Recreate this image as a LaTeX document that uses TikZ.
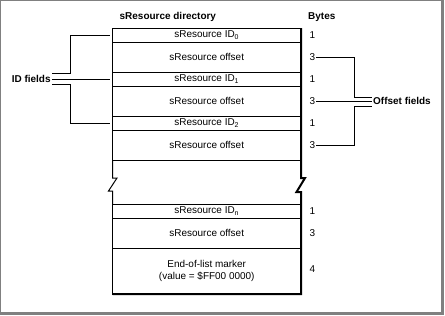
\documentclass[tikz,border=0pt]{standalone}
\usepackage{fontspec}
\setmainfont{Liberation Sans}
\usepackage{tikz}
\usetikzlibrary{positioning}

\begin{document}
\begin{tikzpicture}[
            x=1bp, y=-1bp,
            font=\fontsize{10}{11.5}\selectfont,
            tblrow/.style={draw, line width=1bp, minimum width=188.5bp, inner sep=0pt, outer sep=0pt},
            idrow/.style={tblrow, minimum height=14bp},
            offrow/.style={tblrow, minimum height=30bp},
            endrow/.style={tblrow, minimum height=46bp, align=center},
            bytes/.style={anchor=west, inner sep=1bp},
            head/.style={font=\fontsize{10}{11.5}\selectfont\bfseries, anchor=west, inner sep=0pt},
            field/.style={font=\fontsize{10}{11.5}\selectfont\bfseries, inner sep=1.5bp},
            link/.style={line width=1bp},
            rim/.style={line width=2bp},
            frame/.style={draw=black!50}
        ]
            \useasboundingbox (0,0) rectangle (445,315);
            \draw[frame, line width=1bp] (0.5,313) -- (0.5,0.5) -- (442,0.5);
            \draw[frame, line width=2.5bp] (442.5,0) -- (442.5,313.5) -- (0,313.5);

            \node[head] (title) at (119.5,17) {sResource directory};
            \node[head] (bytehead) at (308,17) {Bytes};

            \node[idrow] (id0) at (206.75,35) {sResource ID\textsubscript{0}};
            \node[offrow] (off0) at (206.75,57) {sResource offset};
            \node[idrow] (id1) at (206.75,79) {sResource ID\textsubscript{1}};
            \node[offrow] (off1) at (206.75,101) {sResource offset};
            \node[idrow] (id2) at (206.75,123) {sResource ID\textsubscript{2}};
            \node[offrow] (off2) at (206.75,145) {sResource offset};

            \node[idrow] (idn) at (206.75,211) {sResource ID\textsubscript{n}};
            \node[offrow] (offn) at (206.75,233) {sResource offset};
            \node[endrow] (endmark) at (206.75,271) {End-of-list marker\\(value = \$FF00 0000)};

            \draw[link] (off2.south west) -- (112.5,178) -- (117,178) -- (108.5,191) -- (112.5,191) -- (idn.north west);
            \draw[rim] (id0.north east) -- (off2.south east) -- (301,178) -- (305,178) -- (296.5,192) -- (301,192)
                -- (idn.north east) -- (endmark.south east) -- (endmark.south west);

            \node[bytes] (bid0) at (308.5,35) {1};
            \node[bytes] (boff0) at (308.5,57) {3};
            \node[bytes] (bid1) at (308.5,79) {1};
            \node[bytes] (boff1) at (308.5,101) {3};
            \node[bytes] (bid2) at (308.5,123) {1};
            \node[bytes] (boff2) at (308.5,145) {3};
            \node[bytes] (bidn) at (308.5,211) {1};
            \node[bytes] (boffn) at (308.5,233) {3};
            \node[bytes] (bend) at (308.5,269) {4};

            \node[field, anchor=east] (idlbl) at (52.3,79) {ID fields};
            \coordinate (idup) at (52.3,73.5);
            \coordinate (iddn) at (52.3,84.3);
            \draw[link] ([xshift=-3bp]id0.west) -| (70,73.5) -- (idup);
            \draw[link] ([xshift=-3bp]id1.west) -- (idlbl.east);
            \draw[link] ([xshift=-3bp]id2.west) -| (70,84.3) -- (iddn);

            \node[field, anchor=west] (offlbl) at (371.5,101) {Offset fields};
            \coordinate (offup) at (371.5,97);
            \coordinate (offdn) at (371.5,106.5);
            \draw[link] (boff0.east) -| (354,97) -- (offup);
            \draw[link] (boff1.east) -- (offlbl.west);
            \draw[link] (boff2.east) -| (354,106.5) -- (offdn);
        \end{tikzpicture}
\end{document}
